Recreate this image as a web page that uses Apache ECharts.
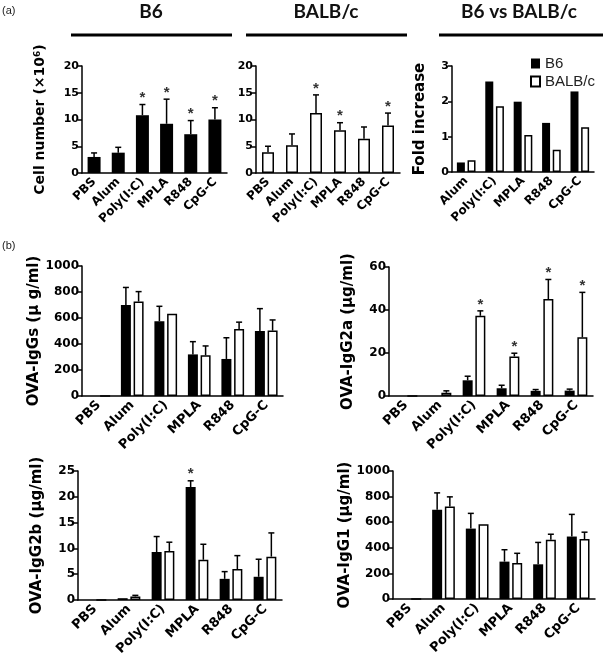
<!DOCTYPE html>
<html><head><meta charset="utf-8">
<script src="https://cdn.jsdelivr.net/npm/echarts@6/dist/echarts.min.js"></script>
<style>html,body{margin:0;padding:0;background:#fff}#c{width:603px;height:662px}</style>
</head><body><div id="c"></div><script>
// ---------- data ----------
const catsA = ['PBS','Alum','Poly(I:C)','MPLA','R848','CpG-C'];
const catsFold = ['Alum','Poly(I:C)','MPLA','R848','CpG-C'];

const cellB6      = [3.0, 3.8, 10.8, 9.2, 7.25, 10.0];
const cellB6Err   = [3.75, 4.8, 12.8, 13.8, 9.8, 12.2];
const cellB6Star  = [0, 0, 1, 1, 1, 1];
const cellBALB     = [3.9, 5.2, 11.2, 8.0, 6.4, 8.9];
const cellBALBErr  = [5.0, 7.3, 14.6, 9.4, 8.6, 11.2];
const cellBALBStar = [0, 0, 1, 1, 0, 1];

const foldB6   = [0.27, 2.56, 1.99, 1.39, 2.28];
const foldBALB = [0.33, 1.86, 1.05, 0.63, 1.27];

const igGsB6      = [0, 700, 575, 320, 285, 500];
const igGsB6Err   = [null, 835, 690, 418, 448, 672];
const igGsBALB    = [0, 727, 632, 313, 516, 503];
const igGsBALBErr = [null, 803, null, 385, 568, 585];

const igG2aB6       = [0, 0, 7.3, 3.6, 2.4, 2.5];
const igG2aB6Err    = [null, null, 9.2, 5.0, 3.0, 3.2];
const igG2aBALB     = [0, 1.5, 37.3, 18.4, 45.1, 27.3];
const igG2aBALBErr  = [null, 2.4, 39.6, 19.9, 54.2, 48.2];
const igG2aBALBStar = [0, 0, 1, 1, 1, 1];

const igG2bB6      = [0, 0.35, 9.3, 21.9, 4.1, 4.5];
const igG2bB6Err   = [null, null, 12.3, 23.1, 5.5, 7.9];
const igG2bB6Star  = [0, 0, 0, 1, 0, 0];
const igG2bBALB    = [0, 0.7, 9.5, 7.8, 6.0, 8.4];
const igG2bBALBErr = [null, 0.9, 11.2, 10.8, 8.6, 13.0];

const igG1B6      = [0, 698, 550, 292, 271, 488];
const igG1B6Err   = [null, 829, 669, 385, 442, 661];
const igG1BALB    = [0, 723, 584, 282, 463, 468];
const igG1BALBErr = [null, 798, null, 357, 506, 522];

// ---------- helpers ----------
const FONT = '"DejaVu Sans", Verdana, sans-serif';

function xAx(g, cats, fs) {
  return {type:'category', gridIndex:g, data:cats,
    axisLine:{lineStyle:{color:'#000', width:1.5}},
    axisTick:{alignWithLabel:true, length:4, lineStyle:{color:'#000', width:1.5}},
    axisLabel:{rotate:45, interval:0, fontSize:fs, fontWeight:'bold', color:'#000', fontFamily:FONT, margin:7}};
}
function yAx(g, max, interval, name, gap, fs, nfs, rich) {
  const o = {type:'value', gridIndex:g, min:0, max:max, interval:interval,
    name:name, nameLocation:'middle', nameGap:gap,
    nameTextStyle:{fontSize:nfs, fontWeight:'bold', color:'#000', fontFamily:FONT},
    axisLine:{show:true, lineStyle:{color:'#000', width:1.5}},
    axisTick:{show:true, length:4, lineStyle:{color:'#000', width:1.5}},
    axisLabel:{fontSize:fs, fontWeight:'bold', color:'#000', fontFamily:FONT, margin:3, formatter:v => String(v)},
    splitLine:{show:false}};
  if (rich) o.nameTextStyle.rich = rich;
  return o;
}
function bar(g, name, vals, w, gap, black) {
  return {type:'bar', name:name, xAxisIndex:g, yAxisIndex:g, data:vals, barWidth:w, barGap:gap,
    itemStyle: black ? {color:'#000'} : {color:'#fff', borderColor:'#000', borderWidth:1.5},
    emphasis:{disabled:true}, animation:false};
}
function err(g, vals, errs, stars, offset, capHalf) {
  const data = [];
  vals.forEach((v, i) => { if (errs[i] != null) data.push([i, v, errs[i], stars ? stars[i] : 0]); });
  return {type:'custom', xAxisIndex:g, yAxisIndex:g, z:5, silent:true, animation:false, data:data,
    encode:{x:0, y:[1,2]},
    renderItem:(p, api) => {
      const i = api.value(0), v = api.value(1), e = api.value(2), s = api.value(3);
      const b = api.coord([i, v]), t = api.coord([i, e]);
      const x = b[0] + offset;
      const ch = [
        {type:'line', shape:{x1:x, y1:b[1], x2:x, y2:t[1]}, style:{stroke:'#000', lineWidth:1.5}},
        {type:'line', shape:{x1:x-capHalf, y1:t[1], x2:x+capHalf, y2:t[1]}, style:{stroke:'#000', lineWidth:1.5}}
      ];
      if (s) ch.push({type:'text', x:x, y:t[1]+1,
        style:{text:'*', fill:'#333', font:'bold 15px "Liberation Sans", Arial', textAlign:'center', textVerticalAlign:'bottom'}});
      return {type:'group', children:ch};
    }};
}

const supRich = {sup:{fontSize:9, fontWeight:'bold', color:'#000', fontFamily:FONT, verticalAlign:'top', padding:[0,0,6,0]}};

const option = {
  backgroundColor:'#fff',
  animation:false,
  grid:[
    {left:82,  top:66,  width:145, height:107},
    {left:256, top:66,  width:144, height:107},
    {left:452, top:66,  width:142, height:106},
    {left:82,  top:266, width:201, height:130},
    {left:389, top:267, width:204, height:129},
    {left:78,  top:471, width:204, height:129},
    {left:393, top:471, width:202, height:128}
  ],
  xAxis:[
    xAx(0, catsA, 12), xAx(1, catsA, 12), xAx(2, catsFold, 12),
    xAx(3, catsA, 13), xAx(4, catsA, 13), xAx(5, catsA, 13), xAx(6, catsA, 13)
  ],
  yAxis:[
    yAx(0, 20, 5, 'Cell number (×10{sup|6})', 34, 11, 14, supRich),
    yAx(1, 20, 5, '', 30, 11, 14),
    yAx(2, 3, 1, 'Fold increase', 24, 11, 15),
    yAx(3, 1000, 200, 'OVA-IgGs (μ g/ml)', 35, 12, 15),
    yAx(4, 60, 20, 'OVA-IgG2a (μg/ml)', 33, 12, 15),
    yAx(5, 25, 5, 'OVA-IgG2b (μg/ml)', 33, 12, 15),
    yAx(6, 1000, 200, 'OVA-IgG1 (μg/ml)', 34, 12, 15)
  ],
  legend:{data:['B6','BALB/c'], orient:'vertical', left:525, top:51, itemWidth:9, itemHeight:10, itemGap:3,
    icon:'rect', textStyle:{fontSize:15, color:'#222', fontFamily:'"Liberation Sans", Arial, sans-serif'}, selectedMode:false},
  graphic:[
    {type:'text', left:2, top:5, style:{text:'(a)', font:'11px "Liberation Sans", Arial', fill:'#222'}},
    {type:'text', left:2, top:240, style:{text:'(b)', font:'11px "Liberation Sans", Arial', fill:'#222'}},
    {type:'text', x:151, y:12, style:{text:'B6', font:'bold 19px Lato, "Open Sans", sans-serif', fill:'#111', textAlign:'center', textVerticalAlign:'middle'}},
    {type:'text', x:326, y:12, style:{text:'BALB/c', font:'bold 19px Lato, "Open Sans", sans-serif', fill:'#111', textAlign:'center', textVerticalAlign:'middle'}},
    {type:'text', x:519, y:12, style:{text:'B6 vs BALB/c', font:'bold 19px Lato, "Open Sans", sans-serif', fill:'#111', textAlign:'center', textVerticalAlign:'middle'}},
    {type:'line', shape:{x1:71, y1:35, x2:232, y2:35}, style:{stroke:'#000', lineWidth:3}},
    {type:'line', shape:{x1:246, y1:35, x2:407, y2:35}, style:{stroke:'#000', lineWidth:3}},
    {type:'line', shape:{x1:439, y1:35, x2:603, y2:35}, style:{stroke:'#000', lineWidth:3}}
  ],
  series:[
    bar(0, 'B6 cells', cellB6, 13, '0%', true),
    err(0, cellB6, cellB6Err, cellB6Star, 0, 3),
    bar(1, 'BALB/c cells', cellBALB, 12, '0%', false),
    err(1, cellBALB, cellBALBErr, cellBALBStar, 0, 3),

    bar(2, 'B6', foldB6, 8, '33%', true),
    bar(2, 'BALB/c', foldBALB, 8, '33%', false),

    bar(3, 'B6', igGsB6, 10, '27%', true),
    bar(3, 'BALB/c', igGsBALB, 10, '27%', false),
    err(3, igGsB6, igGsB6Err, null, -6.35, 3),
    err(3, igGsBALB, igGsBALBErr, null, 6.35, 3),

    bar(4, 'B6', igG2aB6, 10, '27%', true),
    bar(4, 'BALB/c', igG2aBALB, 10, '27%', false),
    err(4, igG2aB6, igG2aB6Err, null, -6.35, 3),
    err(4, igG2aBALB, igG2aBALBErr, igG2aBALBStar, 6.35, 3),

    bar(5, 'B6', igG2bB6, 10, '27%', true),
    bar(5, 'BALB/c', igG2bBALB, 10, '27%', false),
    err(5, igG2bB6, igG2bB6Err, igG2bB6Star, -6.35, 3),
    err(5, igG2bBALB, igG2bBALBErr, null, 6.35, 3),

    bar(6, 'B6', igG1B6, 10, '27%', true),
    bar(6, 'BALB/c', igG1BALB, 10, '27%', false),
    err(6, igG1B6, igG1B6Err, null, -6.35, 3),
    err(6, igG1BALB, igG1BALBErr, null, 6.35, 3)
  ]
};
const chart = echarts.init(document.getElementById('c'));
chart.setOption(option);
</script></body></html>
